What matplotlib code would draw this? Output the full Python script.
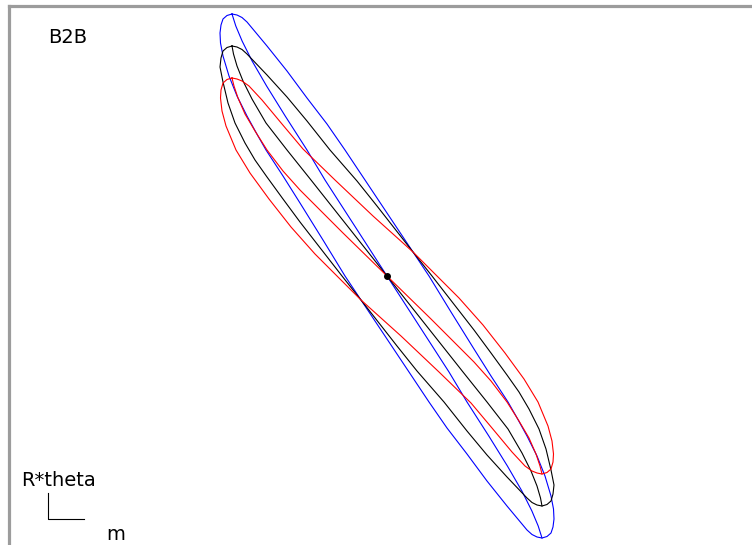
import matplotlib
matplotlib.use("Agg")
import matplotlib.pyplot as plt
from matplotlib.lines import Line2D

W, H = 752, 545

# ---- data (phase-space contours; x ~ m, y ~ R*theta, arbitrary units, centre at 0) ----
blue_x = [-155, -150, -145, -140, -120, -100, -80, -60, -42, -22, 2, 26, 42,
          64, 87, 104, 121, 129, 140, 150, 158, 164, 166.5, 167, 166, 164, 160, 155,
          150, 145, 140, 120, 100, 80, 60, 42, 22, -2, -26, -42,
          -64, -87, -104, -121, -129, -140, -150, -158, -164, -166.5, -167, -166, -164, -160, -155]
blue_y = [262, 261, 258.5, 254, 230, 205, 178, 152, 126, 96, 60, 24, 0,
          -36, -73, -100, -126, -140, -160, -180, -200, -220, -233, -243, -251, -257, -260.5, -262,
          -261, -258.5, -254, -230, -205, -178, -152, -126, -96, -60, -24, 0,
          36, 73, 100, 126, 140, 160, 180, 200, 220, 233, 243, 251, 257, 260.5, 262]
blue_mid_x = [-155, -151.2, -144.9, -134.9, -120.4, -101.8, -80, -62, -31, 0,
              31, 62, 80, 101.8, 120.4, 134.9, 144.9, 151.2, 155]
blue_mid_y = [262, 250, 235, 215, 190, 160, 126, 96, 48, 0,
              -48, -96, -126, -160, -190, -215, -235, -250, -262]

black_x = [-155, -150, -145, -140, -120, -100, -80, -57, -30, -10, 26, 45,
           66, 87, 104, 120, 132, 142, 152, 159, 164, 167, 166, 164, 160, 155,
           150, 145, 140, 120, 100, 80, 57, 30, 10, -26, -45,
           -66, -87, -104, -120, -132, -142, -152, -159, -164, -167, -166, -164, -160, -155]
black_y = [230, 229, 226.5, 222, 201, 179, 155, 126, 95, 70, 24, 0,
           -27, -54, -77, -99, -116, -133, -153, -173, -194, -209, -218, -225, -228.5, -230,
           -229, -226.5, -222, -201, -179, -155, -126, -95, -70, -24, 0,
           27, 54, 77, 99, 116, 133, 153, 173, 194, 209, 218, 225, 228.5, 230]
black_mid_x = [-155, -153.5, -150, -144, -135, -121, -100, -76, -38, 0,
               38, 76, 100, 121, 135, 144, 150, 153.5, 155]
black_mid_y = [230, 222, 210, 195, 177, 153, 126, 96, 48, 0,
               -48, -96, -126, -153, -177, -195, -210, -222, -230]

red_x = [-155, -150, -145, -138, -125, -105, -84, -52, -14, 26, 50,
         72, 96, 118, 137, 151, 161, 165, 166.5, 166, 164, 160, 155,
         150, 145, 138, 125, 105, 84, 52, 14, -26, -50,
         -72, -96, -118, -137, -151, -161, -165, -166.5, -166, -164, -160, -155]
red_y = [198, 197, 195, 190, 176, 152, 127, 96, 60, 24, 0,
         -22, -49, -77, -103, -126, -150, -165, -178, -186, -193, -196.5, -198,
         -197, -195, -190, -176, -152, -127, -96, -60, -24, 0,
         22, 49, 77, 103, 126, 150, 165, 178, 186, 193, 196.5, 198]
red_mid_x = [-155, -153, -149, -142, -132, -120, -104, -87, -44, 0,
             44, 87, 104, 120, 132, 142, 149, 153, 155]
red_mid_y = [198, 190, 178, 162, 145, 126, 105, 86, 43, 0,
             -43, -86, -105, -126, -145, -162, -178, -190, -198]

centre_x = [0.0]
centre_y = [0.0]

title_text = "B2B"
y_label = "R*theta"
x_label = "m"

# ---- figure ----
fig = plt.figure(figsize=(W / 100, H / 100), dpi=100)
left_px, top_px = 8.5, 5.5
ax = fig.add_axes([left_px / W, 0, 1 - left_px / W, (H - top_px) / H])
ax.set_xlim(left_px - 387, W - 387)
ax.set_ylim(276 - H, 276 - top_px)
ax.set_xticks([])
ax.set_yticks([])
for s in ("right", "bottom"):
    ax.spines[s].set_visible(False)
for s in ("top", "left"):
    ax.spines[s].set_color("#9c9c9c")
    ax.spines[s].set_linewidth(2.3)

lw = 0.8
ax.plot(blue_x, blue_y, color="#0000ff", lw=lw)
ax.plot(blue_mid_x, blue_mid_y, color="#0000ff", lw=lw)
ax.plot(black_x, black_y, color="black", lw=lw)
ax.plot(black_mid_x, black_mid_y, color="black", lw=lw)
ax.plot(red_x, red_y, color="#ff0000", lw=lw)
ax.plot(red_mid_x, red_mid_y, color="#ff0000", lw=lw)
ax.plot(centre_x, centre_y, "o", color="black", ms=4)

fs = 14
fig.text(48 / W, 1 - 43 / H, title_text, fontsize=fs, va="baseline", ha="left")
fig.text(21.5 / W, 1 - 486.5 / H, y_label, fontsize=fs, va="baseline", ha="left")
fig.text(106 / W, 1 - 540 / H, x_label, fontsize=fs, va="baseline", ha="left")
fig.add_artist(Line2D([47.7 / W, 47.7 / W, 84.3 / W],
                      [1 - 492.7 / H, 1 - 519 / H, 1 - 519 / H],
                      color="black", lw=0.8, transform=fig.transFigure))

fig.savefig("out.png", dpi=100)
